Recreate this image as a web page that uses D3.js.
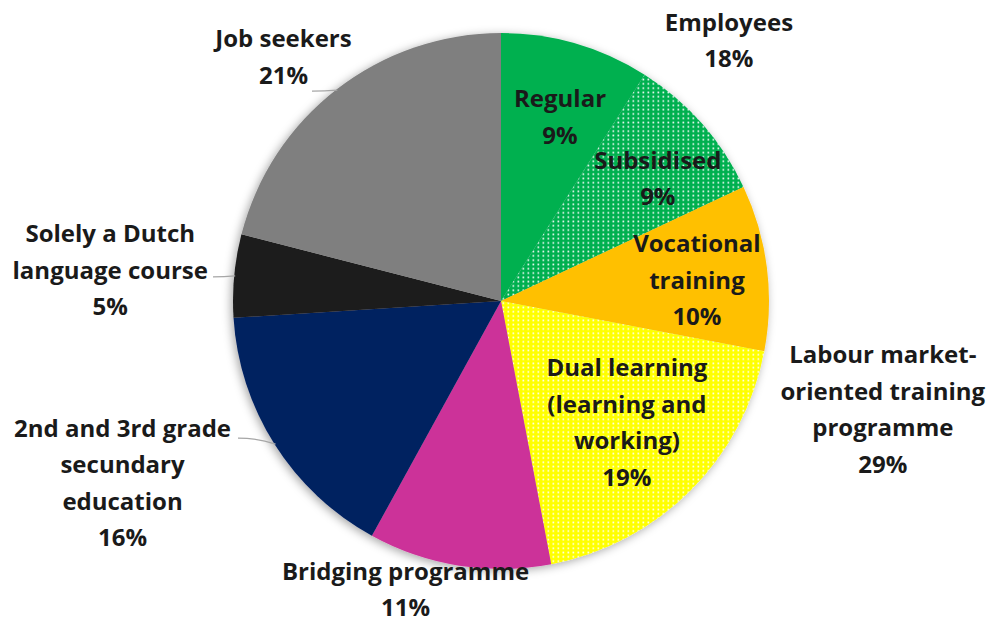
<!DOCTYPE html>
<html><head><meta charset="utf-8">
<script src="https://cdn.jsdelivr.net/npm/d3@7"></script>
<style>body{margin:0;background:#fff}svg{display:block}</style>
</head><body>
<svg id="c" width="996" height="623"></svg>
<script>
// ---- data ----
const categories = ["Regular","Subsidised","Vocational training","Dual learning (learning and working)","Bridging programme","2nd and 3rd grade secundary education","Solely a Dutch language course","Job seekers"];
const values = [9, 9, 10, 19, 11, 16, 5, 21];
const groupNames = ["Employees","Labour market-oriented training programme"];
const groupValues = [18, 29];
const colors = ["#00b050","#00b050","#ffc000","#ffff00","#cc3399","#002060","#1b1b1b","#7f7f7f"];
const dotted = [false,true,false,true,false,false,false,false];

// ---- layout ----
const W = 996, H = 623, cx = 501, cy = 301, R = 268;
const svg = d3.select("#c");
const defs = svg.append("defs");
const f = defs.append("filter").attr("id","sh").attr("x","-20%").attr("y","-20%").attr("width","140%").attr("height","140%");
f.append("feDropShadow").attr("dx",-2).attr("dy",2).attr("stdDeviation",5).attr("flood-color","#000").attr("flood-opacity",0.35);

colors.forEach((c,i)=>{
  if(!dotted[i]) return;
  const p = defs.append("pattern").attr("id","pat"+i).attr("patternUnits","userSpaceOnUse").attr("width",5).attr("height",4.3);
  p.append("rect").attr("width",5).attr("height",4.3).attr("fill",c);
  p.append("rect").attr("x",1.5).attr("y",1.3).attr("width",1.7).attr("height",1.7).attr("fill","#fff").attr("opacity",0.9);
});

const pie = d3.pie().sort(null).value(d=>d)(values);
const arc = d3.arc().innerRadius(0).outerRadius(R);
const g = svg.append("g").attr("transform",`translate(${cx},${cy})`);
const slices = g.append("g").attr("filter","url(#sh)");
slices.selectAll("path").data(pie).join("path")
  .attr("d",arc)
  .attr("fill",(d,i)=>dotted[i]?`url(#pat${i})`:colors[i]);

const pol = (a,r)=>[r*Math.sin(a*Math.PI/180), -r*Math.cos(a*Math.PI/180)];
const deg = d=>(d.startAngle+d.endAngle)/2*180/Math.PI;
const font = "'Open Sans', sans-serif";
const LH = 36.5;
function label(x,y,lines){
  const t = g.append("text").attr("font-family",font).attr("font-weight",700).attr("font-size",24)
    .attr("fill","#1a1a1a").attr("text-anchor","middle");
  lines.forEach((s,k)=>t.append("tspan").attr("x",x).attr("y",y+(k-(lines.length-1)/2)*LH).attr("dy","0.35em").text(s));
}
// inside labels: placed along slice mid-angle
const inside = {0:{r:193,da:1.6,lines:["Regular",values[0]+"%"]},
                1:{r:199,da:3.4,lines:["Subsidised",values[1]+"%"]},
                2:{r:197,da:1.2,lines:["Vocational","training",values[2]+"%"]},
                3:{r:175,da:-1,lines:["Dual learning","(learning and","working)",values[3]+"%"]}};
Object.keys(inside).forEach(i=>{
  const o = inside[i]; const [x,y] = pol(deg(pie[i])+o.da,o.r); label(x,y,o.lines);
});
// outside labels
const outside = [
  {i:4,a:198.3,r:304,lines:["Bridging programme",values[4]+"%"]},
  {i:5,a:244.3,r:420,lines:["2nd and 3rd grade","secundary","education",values[5]+"%"],leader:true,lx:-263},
  {i:6,a:274.5,r:392,lines:["Solely a Dutch","language course",values[6]+"%"],leader:true,lx:-288},
  {i:7,a:318.3,r:327,lines:["Job seekers",values[7]+"%"],leader:true,lx:-189}
];
outside.forEach(o=>{
  const [x,y]=pol(o.a,o.r); label(x,y,o.lines);
  if(o.leader){
    const [ex,ey]=pol(deg(pie[o.i]),R-1);
    g.append("path").attr("d",`M${o.lx},${ey+ (o.i===5?-6:1)} Q${(o.lx+ex)/2},${ey+(o.i===5?-6:1)} ${ex},${ey}`)
      .attr("fill","none").attr("stroke","#a6a6a6").attr("stroke-width",1.2);
  }
});
// group labels
label(...pol(41.2,346),[groupNames[0],groupValues[0]+"%"]);
label(...pol(105.9,397),["Labour market-","oriented training","programme",groupValues[1]+"%"]);
</script>
</body></html>
